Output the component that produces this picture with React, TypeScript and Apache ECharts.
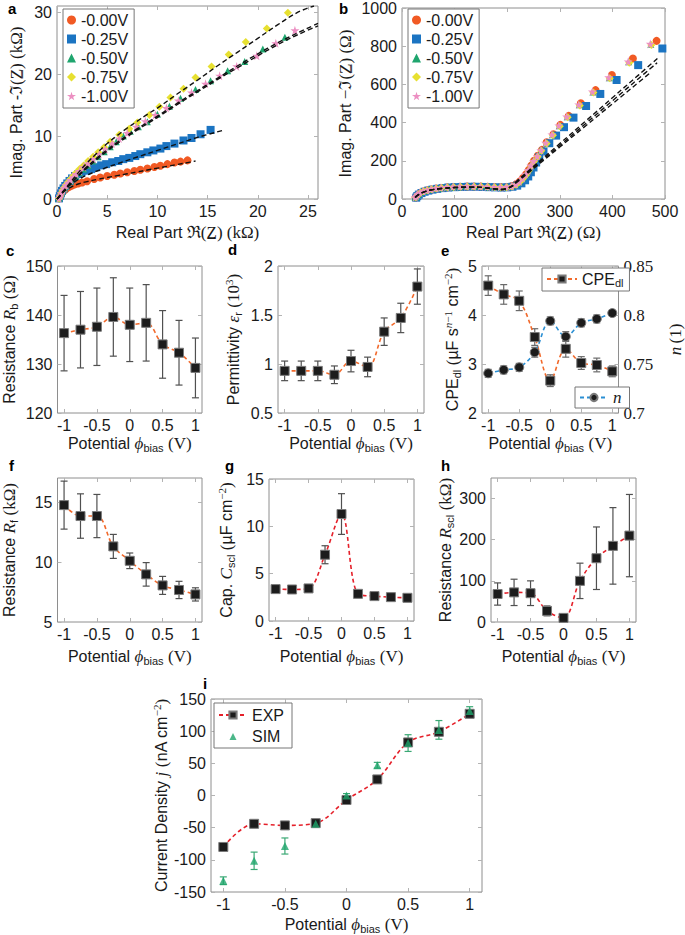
import React, { useEffect, useRef } from 'react';
import * as echarts from 'echarts';

const SANS = '"Liberation Sans", Arial, Helvetica, sans-serif';
const SERIF = '"Liberation Serif", "DejaVu Serif", "Times New Roman", serif';

// ---------------- data ----------------
const seriesNames = ['-0.00V', '-0.25V', '-0.50V', '-0.75V', '-1.00V'];

// panel a (kOhm)
const a00x = [0.2, 0.28, 0.38, 0.5, 0.64, 0.8, 1.0, 1.22, 1.48, 1.78, 2.1, 2.5, 3.0, 3.7, 4.3, 5.0, 5.7, 6.3, 7.0, 7.7, 8.3, 9.0, 9.7, 10.3, 11.0, 11.7, 12.3, 13.0];
const a00y = [0.1, 0.4, 0.75, 1.05, 1.3, 1.5, 1.75, 1.95, 2.15, 2.35, 2.5, 2.65, 2.85, 3.2, 3.45, 3.7, 3.9, 4.1, 4.3, 4.5, 4.7, 4.9, 5.15, 5.35, 5.6, 5.85, 6.0, 6.2];
const a25x = [0.2, 0.28, 0.38, 0.5, 0.65, 0.82, 1.02, 1.25, 1.5, 1.8, 2.1, 2.45, 2.9, 3.4, 3.9, 4.4, 4.9, 5.5, 6.1, 6.6, 7.2, 7.8, 8.3, 9.0, 9.6, 10.3, 10.9, 11.7, 12.6, 13.4, 14.3, 15.3];
const a25y = [0.1, 0.5, 0.9, 1.3, 1.7, 2.1, 2.5, 2.9, 3.3, 3.7, 4.0, 4.3, 4.55, 4.8, 5.1, 5.4, 5.6, 5.9, 6.1, 6.4, 6.6, 6.9, 7.2, 7.5, 7.8, 8.1, 8.5, 8.9, 9.4, 9.8, 10.4, 11.1];
const a50x = [0.2, 0.3, 0.42, 0.56, 0.72, 0.9, 1.1, 1.35, 1.6, 1.9, 2.25, 2.65, 3.1, 3.6, 4.1, 4.7, 5.3, 5.9, 6.6, 7.3, 8.1, 9.0, 10.0, 11.2, 12.3, 13.8, 15.3, 17.0, 18.7, 20.5, 22.7];
const a50y = [0.1, 0.5, 0.9, 1.3, 1.7, 2.1, 2.5, 2.9, 3.3, 3.75, 4.25, 4.8, 5.4, 6.1, 6.8, 7.6, 8.4, 9.2, 10.1, 10.9, 11.6, 12.4, 13.6, 14.9, 16.2, 17.6, 19.0, 20.6, 22.1, 24.1, 26.0];
const a75x = [0.2, 0.3, 0.42, 0.56, 0.72, 0.9, 1.1, 1.35, 1.6, 1.9, 2.25, 2.65, 3.1, 3.6, 4.1, 4.7, 5.3, 6.2, 7.2, 8.0, 9.2, 10.2, 11.3, 12.6, 13.8, 15.4, 17.1, 18.8, 20.9, 23.0];
const a75y = [0.1, 0.5, 0.95, 1.4, 1.85, 2.3, 2.75, 3.2, 3.7, 4.2, 4.8, 5.4, 6.1, 6.8, 7.5, 8.3, 9.2, 10.3, 11.3, 12.3, 13.5, 14.8, 16.3, 17.7, 19.5, 21.3, 23.2, 25.2, 27.4, 29.9];
const a100x = [0.2, 0.3, 0.42, 0.56, 0.72, 0.9, 1.1, 1.35, 1.6, 1.9, 2.25, 2.65, 3.1, 3.6, 4.2, 4.8, 5.5, 6.2, 7.0, 7.9, 8.8, 9.8, 10.9, 12.1, 13.4, 14.8, 16.2, 17.9, 19.9, 21.8, 23.7];
const a100y = [0.1, 0.5, 0.9, 1.35, 1.75, 2.2, 2.6, 3.05, 3.5, 4.0, 4.5, 5.1, 5.7, 6.4, 7.2, 8.0, 8.9, 9.7, 10.6, 11.6, 12.5, 13.5, 14.6, 15.8, 17.1, 18.5, 19.8, 21.3, 23.0, 25.0, 27.1];

const fa00x = [0, 0.2, 0.5, 0.9, 1.5, 2.2, 3, 4, 5, 6, 7, 8, 9, 10, 11, 12, 13, 13.8];
const fa00y = [0, 0.3, 0.9, 1.45, 2.0, 2.45, 2.8, 3.15, 3.45, 3.75, 4.05, 4.35, 4.65, 4.95, 5.25, 5.55, 5.85, 6.1];
const fa25x = [0, 0.2, 0.5, 0.9, 1.5, 2.2, 3, 4, 5, 6, 8, 10, 12, 14, 16.6];
const fa25y = [0, 0.4, 1.0, 1.7, 2.5, 3.2, 3.85, 4.5, 5.1, 5.65, 6.75, 7.8, 8.85, 9.9, 11.05];
const fa50x = [0, 0.3, 0.7, 1.2, 2, 3, 4, 5, 6, 7, 8, 9, 10, 12, 14, 16, 18, 20, 22, 24, 26];
const fa50y = [0, 0.5, 1.3, 2.2, 3.6, 5.2, 6.6, 7.9, 9.1, 10.2, 11.3, 12.3, 13.3, 15.4, 17.4, 19.4, 21.4, 23.3, 25.1, 26.7, 28.2];
const fa75x = [0, 0.3, 0.7, 1.2, 2, 3, 4, 5, 6, 7, 8, 9, 10, 12, 14, 16, 18, 20, 22, 24, 25.6];
const fa75y = [0, 0.6, 1.4, 2.4, 4.0, 5.8, 7.4, 8.9, 10.2, 11.4, 12.5, 13.6, 14.6, 16.9, 19.1, 21.4, 23.6, 25.8, 28.0, 30.0, 31.0];
const fa100x = [0, 0.3, 0.7, 1.2, 2, 3, 4, 5, 6, 7, 8, 9, 10, 12, 14, 16, 18, 20, 22, 24, 26];
const fa100y = [0, 0.5, 1.3, 2.2, 3.5, 5.0, 6.4, 7.7, 8.9, 10.0, 11.1, 12.1, 13.1, 15.2, 17.2, 19.2, 21.1, 23.0, 24.8, 26.4, 27.8];

// panel b (Ohm)
const b00x = [26, 28, 31, 35, 41, 48, 56, 65, 75, 86, 98, 111, 124, 137, 150, 163, 176, 188, 199, 209, 217, 224, 230, 236, 241, 246, 251, 258, 266, 275, 288, 301, 317, 340, 368, 399, 439, 484];
const b00y = [8, 16, 24, 32, 39, 45, 50, 55, 58, 61, 63, 64, 65, 65, 65, 64, 63, 62, 63, 68, 78, 92, 110, 130, 152, 176, 200, 226, 257, 297, 339, 388, 435, 501, 570, 649, 736, 828];
const b25x = [27, 29, 32, 37, 43, 50, 58, 67, 77, 88, 100, 113, 126, 139, 152, 165, 177, 189, 200, 210, 219, 227, 234, 240, 245, 250, 255, 261, 269, 280, 293, 308, 326, 350, 377, 408, 449, 495];
const b25y = [7, 15, 23, 31, 38, 44, 49, 53, 57, 60, 62, 63, 64, 64, 63, 62, 61, 60, 61, 64, 70, 82, 98, 118, 140, 165, 191, 219, 249, 292, 332, 376, 426, 487, 550, 623, 701, 788];
const b50x = [25, 27, 30, 34, 40, 47, 55, 64, 74, 85, 97, 110, 123, 136, 149, 162, 175, 187, 198, 208, 216, 223, 229, 235, 240, 245, 250, 257, 264, 274, 286, 299, 314, 337, 363, 394, 431, 473];
const b50y = [8, 16, 24, 32, 39, 45, 50, 55, 58, 61, 63, 64, 65, 65, 65, 64, 63, 62, 63, 67, 76, 90, 108, 128, 150, 174, 198, 222, 254, 292, 336, 383, 430, 493, 560, 635, 718, 810];
const b75x = [26, 28, 31, 35, 41, 48, 56, 65, 75, 86, 98, 111, 124, 137, 150, 163, 176, 188, 199, 209, 217, 224, 230, 236, 241, 246, 251, 258, 265, 275, 287, 300, 315, 338, 364, 395, 432, 474];
const b75y = [9, 17, 25, 33, 40, 46, 51, 55, 59, 61, 63, 64, 65, 66, 65, 64, 63, 62, 62, 66, 75, 89, 106, 126, 148, 172, 196, 221, 252, 290, 334, 381, 428, 490, 557, 632, 714, 806];
const b100x = [25, 27, 30, 34, 40, 47, 55, 64, 74, 85, 97, 110, 123, 136, 149, 162, 175, 187, 198, 208, 216, 223, 229, 235, 240, 245, 250, 257, 264, 273, 285, 298, 313, 336, 362, 393, 430, 472];
const b100y = [9, 17, 25, 33, 40, 46, 51, 56, 59, 62, 64, 65, 66, 66, 65, 64, 63, 62, 63, 67, 77, 91, 109, 129, 151, 175, 199, 224, 255, 294, 338, 385, 432, 495, 562, 637, 720, 812];

const fb1x = [25, 30, 40, 55, 75, 100, 130, 155, 175, 190, 200, 210, 215, 300, 350, 400, 450, 490];
const fb1y = [8, 20, 35, 47, 55, 60, 62, 60, 53, 50, 56, 70, 86, 290, 410, 530, 650, 746];
const fb2x = [25, 30, 40, 55, 75, 100, 130, 155, 175, 190, 200, 210, 215, 300, 350, 400, 450, 485];
const fb2y = [8, 20, 35, 47, 55, 60, 62, 60, 53, 50, 56, 69, 84, 280, 397, 514, 631, 713];
const fb3x = [25, 30, 40, 55, 75, 100, 130, 155, 175, 190, 200, 210, 215, 300, 350, 400, 450, 472];
const fb3y = [8, 20, 35, 47, 55, 60, 62, 60, 53, 50, 55, 67, 80, 272, 385, 498, 611, 661];

// panels c-i
const potential = [-1, -0.75, -0.5, -0.25, 0, 0.25, 0.5, 0.75, 1];
const rbVal = [136.3, 137.0, 137.6, 139.6, 138.0, 138.4, 134.0, 132.3, 129.2];
const rbErr = [7.7, 7.8, 7.9, 8.0, 7.5, 7.8, 6.9, 6.6, 6.1];
const epsVal = [0.93, 0.93, 0.93, 0.89, 1.03, 0.97, 1.33, 1.47, 1.79];
const epsErr = [0.1, 0.1, 0.1, 0.09, 0.11, 0.1, 0.14, 0.15, 0.18];
const cpeVal = [4.6, 4.42, 4.29, 3.55, 2.66, 3.31, 3.02, 2.98, 2.85];
const cpeErr = [0.2, 0.2, 0.2, 0.17, 0.12, 0.17, 0.13, 0.14, 0.11];
const nVal = [0.7405, 0.744, 0.7466, 0.762, 0.794, 0.778, 0.792, 0.796, 0.802];
const nErr = [0.004, 0.004, 0.004, 0.005, 0.004, 0.005, 0.004, 0.004, 0.003];
const rfVal = [14.74, 13.83, 13.83, 11.3, 10.1, 8.97, 8.05, 7.67, 7.3];
const rfErr = [2.0, 1.85, 1.8, 1.0, 0.65, 0.98, 0.75, 0.72, 0.55];
const cscVal = [3.37, 3.33, 3.44, 7.0, 11.3, 2.87, 2.63, 2.52, 2.45];
const cscErr = [0.15, 0.15, 0.15, 0.95, 2.15, 0.15, 0.12, 0.12, 0.1];
const rscVal = [68, 72, 70, 27, 10, 100, 155, 185, 210];
const rscErr = [27, 32, 30, 12, 5, 43, 76, 93, 100];
const jExp = [-80, -44, -46.5, -43, -7, 25, 82.5, 99, 127];
const jSim = [-132.5, -101.5, -78.5, -44, 0, 47, 81.5, 102, 131.5];
const jSimErr = [6, 13.5, 12.5, 4, 3, 4.5, 13, 14.5, 6.5];

// tick values
const ticksA_x = [0, 5, 10, 15, 20, 25];
const ticksA_y = [0, 10, 20, 30];
const ticksB_x = [0, 100, 200, 300, 400, 500];
const ticksB_y = [0, 200, 400, 600, 800, 1000];
const ticksPot = [-1, -0.5, 0, 0.5, 1];
const ticksC = [120, 130, 140, 150];
const ticksD = [0.5, 1, 1.5, 2];
const ticksE = [2, 3, 4, 5];
const ticksN = [0.7, 0.75, 0.8, 0.85];
const ticksF = [5, 10, 15];
const ticksG = [0, 5, 10, 15];
const ticksH = [0, 100, 200, 300];
const ticksI = [-150, -100, -50, 0, 50, 100, 150];

// ---------------- styling helpers ----------------
const FRAME = '#8e8e8e';
const TICKC = '#b3b3b3';
const TXT = '#1a1a1a';
const ORANGE = '#f26a2c';
const RED = '#e5202a';
const BLUE = '#2a8fd4';
const GREEN = '#1ea56c';

const RICH: any = {
  n: { fontFamily: SANS, fontSize: 16, lineHeight: 20, color: TXT },
  i: { fontFamily: SERIF, fontStyle: 'italic', fontSize: 17, lineHeight: 20, color: TXT },
  r: { fontFamily: SERIF, fontSize: 17, lineHeight: 20, color: TXT },
  sb: { fontFamily: SANS, fontSize: 11, lineHeight: 11, verticalAlign: 'bottom', color: TXT },
  sp: { fontFamily: SERIF, fontSize: 11, lineHeight: 11, verticalAlign: 'top', color: TXT },
  spi: { fontFamily: SERIF, fontStyle: 'italic', fontSize: 11, lineHeight: 11, verticalAlign: 'top', color: TXT },
};

const fmt = (v: number) => String(Math.round(v * 1000) / 1000);
const tickStyle = (vals: number[]) => ({ show: true, inside: true, length: 4, lineStyle: { color: TICKC, width: 1 }, customValues: vals });
const noLine = { show: false, onZero: false };

function xAxes(gi: number, min: number, max: number, ticks: number[], name: string, gap: number) {
  const base = { type: 'value', gridIndex: gi, min, max, splitLine: { show: false }, axisLine: noLine };
  return [
    {
      ...base, position: 'bottom', axisTick: tickStyle(ticks),
      axisLabel: { show: true, customValues: ticks, formatter: fmt, color: TXT, fontFamily: SANS, fontSize: 16, margin: 4 },
      name, nameLocation: 'middle', nameGap: gap, nameTextStyle: { rich: RICH, color: TXT },
    },
    { ...base, position: 'top', axisTick: tickStyle(ticks), axisLabel: { show: false } },
  ];
}

function yAxes(gi: number, min: number, max: number, ticks: number[], name: string, gap: number, right?: any) {
  const base = { type: 'value', gridIndex: gi, min, max, splitLine: { show: false }, axisLine: noLine };
  const left = {
    ...base, position: 'left', axisTick: tickStyle(ticks),
    axisLabel: { show: true, customValues: ticks, formatter: fmt, color: TXT, fontFamily: SANS, fontSize: 16, margin: 5 },
    name, nameLocation: 'middle', nameGap: gap, nameRotate: 90, nameTextStyle: { rich: RICH, color: TXT },
  };
  const r = right
    ? {
        ...base, min: right.min, max: right.max, position: 'right', axisTick: tickStyle(right.ticks),
        axisLabel: { show: true, customValues: right.ticks, formatter: fmt, color: TXT, fontFamily: SERIF, fontSize: 17, margin: 5 },
        name: right.name, nameLocation: 'middle', nameGap: right.gap, nameRotate: 90, nameTextStyle: { rich: RICH, color: TXT },
      }
    : { ...base, position: 'right', axisTick: tickStyle(ticks), axisLabel: { show: false } };
  return [left, r];
}

const zip = (xs: number[], ys: number[]) => xs.map((x, k) => [x, ys[k]]);

const STAR = 'path://M50,0 L61,35 L98,35 L68,57 L79,91 L50,70 L21,91 L32,57 L2,35 L39,35 Z';
const scatterStyles = [
  { symbol: 'circle', color: '#f15a24', size: 8 },
  { symbol: 'rect', color: '#1b74c2', size: 8 },
  { symbol: 'triangle', color: '#1fa56e', size: 7 },
  { symbol: 'diamond', color: '#e7e030', size: 8 },
  { symbol: STAR, color: '#ec8fc2', size: 9 },
];

function scat(xi: number, name: string, xs: number[], ys: number[], k: number) {
  const s = scatterStyles[k];
  return {
    type: 'scatter', name, xAxisIndex: xi, yAxisIndex: xi, data: zip(xs, ys), symbol: s.symbol, symbolSize: s.size,
    itemStyle: { color: s.color, opacity: 1 }, z: 2, silent: true,
  };
}

function fit(xi: number, name: string, xs: number[], ys: number[]) {
  return {
    type: 'line', name, xAxisIndex: xi, yAxisIndex: xi, data: zip(xs, ys), symbol: 'none', showSymbol: false, smooth: 0.4,
    lineStyle: { color: '#111', type: [5, 3], width: 1.4 }, z: 4, silent: true,
  };
}

function errBars(xi: number, yi: number, xs: number[], ys: number[], es: number[], color: string) {
  return {
    type: 'custom', xAxisIndex: xi, yAxisIndex: yi, z: 2, silent: true,
    data: xs.map((x, k) => [x, ys[k], es[k]]),
    encode: { x: 0, y: 1 },
    renderItem: (params: any, api: any) => {
      const x = api.value(0), y = api.value(1), e = api.value(2);
      const t = api.coord([x, y + e]);
      const b = api.coord([x, y - e]);
      const w = 3.5;
      const st = { stroke: color, lineWidth: 1.2 };
      return {
        type: 'group',
        children: [
          { type: 'line', shape: { x1: t[0], y1: t[1], x2: b[0], y2: b[1] }, style: st },
          { type: 'line', shape: { x1: t[0] - w, y1: t[1], x2: t[0] + w, y2: t[1] }, style: st },
          { type: 'line', shape: { x1: b[0] - w, y1: b[1], x2: b[0] + w, y2: b[1] }, style: st },
        ],
      };
    },
  };
}

function markerLine(xi: number, yi: number, name: string, xs: number[], ys: number[], color: string, symbol: string) {
  return {
    type: 'line', name, xAxisIndex: xi, yAxisIndex: yi, data: zip(xs, ys), smooth: 0.35, symbol, symbolSize: 9, showSymbol: true,
    itemStyle: { color: '#1c1c1c', borderColor: '#7a7a7a', borderWidth: 1 },
    lineStyle: { color, type: [4, 3], width: 1.6 }, z: 3, silent: true,
  };
}

const POT = '{n|Potential }{i|ϕ}{sb|bias}{n| }{r|(V)}';
// small triangle centred in a wide legend icon box
const SIM_ICON = 'path://M0,0 M28,9 M10.5,8.5 L14,1.5 L17.5,8.5 Z';

function buildOption() {
  const grids = [
    [57, 6, 261, 193],
    [402, 6, 263, 193],
    [57, 266, 145, 147],
    [278, 266, 146, 147],
    [482, 266, 144, 147],
    [57, 478, 145, 144],
    [269, 479, 145, 142],
    [491, 478, 145, 144],
    [211, 699, 271, 194],
  ].map(([l, t, w, h]) => ({ left: l, top: t, width: w, height: h, show: true, borderColor: FRAME, borderWidth: 1, backgroundColor: 'transparent' }));

  const xAxis = [
    ...xAxes(0, 0, 26, ticksA_x, '{n|Real Part }{r|ℜ(Z̲) (kΩ)}', 23),
    ...xAxes(1, 0, 500, ticksB_x, '{n|Real Part }{r|ℜ(Z̲) (Ω)}', 23),
    ...xAxes(2, -1.1, 1.1, ticksPot, POT, 20),
    ...xAxes(3, -1.1, 1.1, ticksPot, POT, 20),
    ...xAxes(4, -1.1, 1.1, ticksPot, POT, 20),
    ...xAxes(5, -1.1, 1.1, ticksPot, POT, 24),
    ...xAxes(6, -1.1, 1.1, ticksPot, POT, 25),
    ...xAxes(7, -1.1, 1.1, ticksPot, POT, 24),
    ...xAxes(8, -1.1, 1.1, ticksPot, POT, 22),
  ];
  const yAxis = [
    ...yAxes(0, 0, 31, ticksA_y, '{n|Imag. Part -}{r|ℑ(Z̲) (kΩ)}', 31),
    ...yAxes(1, 0, 1000, ticksB_y, '{n|Imag. Part }{r|−ℑ(Z̲) (Ω)}', 47),
    ...yAxes(2, 120, 150, ticksC, '{n|Resistance }{i|R}{sb|b}{n| }{r|(Ω)}', 38),
    ...yAxes(3, 0.5, 2, ticksD, '{n|Permittivity }{i|ε}{sb|r}{n| }{r|(10}{sp|3}{r|)}', 35),
    ...yAxes(4, 2, 5, ticksE, '{n|CPE}{sb|dl}{n| }{r|(}{n|µF s}{spi|n}{sp|−1}{n| cm}{sp|−2}{r|)}', 20,
      { min: 0.7, max: 0.85, ticks: ticksN, name: '{i|n} {r|(1)}', gap: 47 }),
    ...yAxes(5, 5, 17, ticksF, '{n|Resistance }{i|R}{sb|f}{n| }{r|(kΩ)}', 38),
    ...yAxes(6, 0, 15, ticksG, '{n|Cap. }{i|C}{sb|scl}{n| }{r|(}{n|µF cm}{sp|−2}{r|)}', 33),
    ...yAxes(7, 0, 350, ticksH, '{n|Resistance }{i|R}{sb|scl}{n| }{r|(kΩ)}', 35),
    ...yAxes(8, -150, 150, ticksI, '{n|Current Density }{i|j}{n| }{r|(}{n|nA cm}{sp|−2}{r|)}', 26),
  ];

  const aSets = [[a00x, a00y], [a25x, a25y], [a50x, a50y], [a75x, a75y], [a100x, a100y]];
  const bSets = [[b00x, b00y], [b25x, b25y], [b50x, b50y], [b75x, b75y], [b100x, b100y]];

  const series: any[] = [];
  aSets.forEach(([xs, ys], k) => series.push(scat(0, seriesNames[k], xs, ys, k)));
  series.push(fit(0, 'fitA0', fa00x, fa00y));
  series.push(fit(0, 'fitA1', fa25x, fa25y));
  series.push(fit(0, 'fitA2', fa50x, fa50y));
  series.push(fit(0, 'fitA3', fa75x, fa75y));
  series.push(fit(0, 'fitA4', fa100x, fa100y));
  bSets.forEach(([xs, ys], k) => series.push(scat(2, seriesNames[k], xs, ys, k)));
  series.push(fit(2, 'fitB1', fb1x, fb1y));
  series.push(fit(2, 'fitB2', fb2x, fb2y));
  series.push(fit(2, 'fitB3', fb3x, fb3y));

  // c
  series.push(errBars(4, 4, potential, rbVal, rbErr, '#505050'));
  series.push(markerLine(4, 4, 'Rb', potential, rbVal, ORANGE, 'rect'));
  // d
  series.push(errBars(6, 6, potential, epsVal, epsErr, '#505050'));
  series.push(markerLine(6, 6, 'eps', potential, epsVal, ORANGE, 'rect'));
  // e
  series.push(errBars(8, 8, potential, cpeVal, cpeErr, '#6a6a6a'));
  series.push(errBars(8, 9, potential, nVal, nErr, '#6a6a6a'));
  series.push(markerLine(8, 8, 'CPEdl', potential, cpeVal, ORANGE, 'rect'));
  series.push(markerLine(8, 9, 'n', potential, nVal, BLUE, 'circle'));
  // f
  series.push(errBars(10, 10, potential, rfVal, rfErr, '#505050'));
  series.push(markerLine(10, 10, 'Rf', potential, rfVal, ORANGE, 'rect'));
  // g
  series.push(errBars(12, 12, potential, cscVal, cscErr, '#505050'));
  series.push(markerLine(12, 12, 'Cscl', potential, cscVal, RED, 'rect'));
  // h
  series.push(errBars(14, 14, potential, rscVal, rscErr, '#505050'));
  series.push(markerLine(14, 14, 'Rscl', potential, rscVal, RED, 'rect'));
  // i
  series.push(markerLine(16, 16, 'EXP', potential, jExp, RED, 'rect'));
  series.push(errBars(16, 16, potential, jSim, jSimErr, '#3aa874'));
  series.push({
    type: 'scatter', name: 'SIM', xAxisIndex: 16, yAxisIndex: 16, data: zip(potential, jSim), symbol: 'triangle', symbolSize: 8,
    itemStyle: { color: GREEN }, z: 5, silent: true,
  });

  const legendBase = {
    orient: 'vertical', selectedMode: false, borderColor: '#777', borderWidth: 1, borderRadius: 0, backgroundColor: '#fff',
    textStyle: { fontFamily: SANS, fontSize: 16, color: TXT },
  };
  const legend = [
    { ...legendBase, left: 63, top: 9, data: seriesNames, itemWidth: 9, itemHeight: 9, itemGap: 3, padding: [3, 6, 4, 4] },
    { ...legendBase, left: 408, top: 9, data: seriesNames, itemWidth: 9, itemHeight: 9, itemGap: 3, padding: [3, 6, 4, 4] },
    {
      ...legendBase, left: 542, top: 268, data: ['CPEdl'], itemWidth: 30, itemHeight: 9, padding: [3, 6, 3, 4],
      formatter: () => '{a|CPE}{b|dl}',
      textStyle: { ...legendBase.textStyle, rich: { a: { fontFamily: SANS, fontSize: 16, lineHeight: 18 }, b: { fontFamily: SANS, fontSize: 11, lineHeight: 9, verticalAlign: 'bottom' } } },
    },
    {
      ...legendBase, left: 575, top: 387, data: ['n'], itemWidth: 28, itemHeight: 9, padding: [2, 8, 2, 4],
      formatter: () => '{c|n}',
      textStyle: { ...legendBase.textStyle, rich: { c: { fontFamily: SERIF, fontStyle: 'italic', fontSize: 17 } } },
    },
    {
      ...legendBase, left: 214, top: 703, itemWidth: 28, itemHeight: 9, itemGap: 5, padding: [4, 8, 4, 4],
      data: [{ name: 'EXP' }, { name: 'SIM', icon: SIM_ICON }],
    },
  ];

  const letters: [string, number, number][] = [
    ['a', 8, 1], ['b', 339, 1], ['c', 6, 243], ['d', 228, 242], ['e', 441, 243],
    ['f', 9, 458], ['g', 225, 458], ['h', 441, 458], ['i', 203, 676],
  ];
  const graphic = letters.map(([t, x, y]) => ({
    type: 'text', left: x, top: y, silent: true,
    style: { text: t, fontFamily: SANS, fontWeight: 'bold', fontSize: 15, fill: '#000' },
  }));

  return {
    animation: false,
    backgroundColor: '#fff',
    textStyle: { fontFamily: SANS },
    grid: grids,
    xAxis,
    yAxis,
    series,
    legend,
    graphic,
  };
}

export default function App() {
  const ref = useRef<HTMLDivElement>(null);
  useEffect(() => {
    const chart = echarts.init(ref.current as HTMLDivElement, null, { renderer: 'svg' });
    chart.setOption(buildOption() as any);
    return () => chart.dispose();
  }, []);
  return <div ref={ref} style={{ position: 'absolute', left: 0, top: 0, width: 685, height: 935 }} />;
}
